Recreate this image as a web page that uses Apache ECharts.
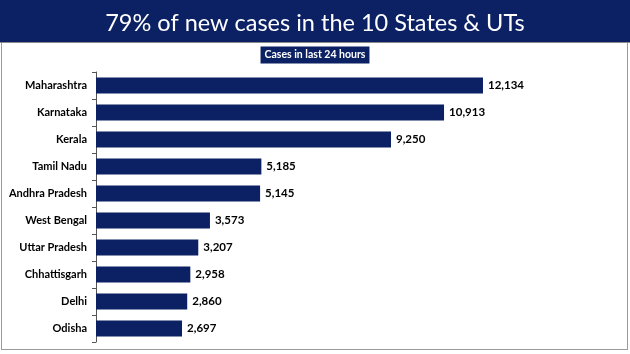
<!DOCTYPE html>
<html>
<head>
<meta charset="utf-8">
<script src="https://cdn.jsdelivr.net/npm/echarts@6/dist/echarts.min.js"></script>
<style>
html,body{margin:0;padding:0;background:#fff;}
#c{width:630px;height:354px;}
</style>
</head>
<body>
<div id="c"></div>
<script>
const categories = ["Maharashtra","Karnataka","Kerala","Tamil Nadu","Andhra Pradesh","West Bengal","Uttar Pradesh","Chhattisgarh","Delhi","Odisha"];
const cases = [12134,10913,9250,5185,5145,3573,3207,2958,2860,2697];
const titleText = "79% of new cases in the 10 States & UTs";
const subtitleText = "Cases in last 24 hours";

const navy = "#0b2163";
const chart = echarts.init(document.getElementById('c'), null, {renderer:'canvas'});
chart.setOption({
  animation:false,
  backgroundColor:'#fff',
  graphic:[
    {type:'rect', left:0, top:0, shape:{width:630,height:42}, style:{fill:navy}, z:0},
    {type:'rect', left:0, top:42, shape:{width:630,height:1}, style:{fill:'#8a8a8a'}, z:0},
    {type:'rect', left:1, top:43, shape:{width:1,height:307}, style:{fill:'#9a9a9a'}, z:0},
    {type:'rect', left:627, top:43, shape:{width:1,height:307}, style:{fill:'#9a9a9a'}, z:0},
    {type:'rect', left:1, top:349, shape:{width:627,height:1}, style:{fill:'#9a9a9a'}, z:0}
  ],
  title:[
    {text:titleText, left:'center', top:6,
     textStyle:{color:'#fff', fontFamily:'Lato', fontWeight:'normal', fontSize:23.5}},
    {text:subtitleText, left:'center', top:47, padding:[3,4,3,4], backgroundColor:navy,
     textStyle:{color:'#fff', fontFamily:'Lato', fontWeight:'bold', fontSize:10.5, lineHeight:10}}
  ],
  grid:{left:96, top:72, height:270, width:446.5, containLabel:false},
  xAxis:{type:'value', min:0, max:14000, show:false},
  yAxis:{type:'category', data:categories, inverse:true,
    axisLine:{show:true, lineStyle:{color:'#555', width:1}},
    axisTick:{show:true, length:4, lineStyle:{color:'#555'}},
    axisLabel:{color:'#000', fontFamily:'Lato', fontWeight:'bold', fontSize:11, margin:9}
  },
  series:[{
    type:'bar', data:cases, barWidth:'59%',
    itemStyle:{color:navy},
    label:{show:true, position:'right', distance:5, color:'#000', fontFamily:'Lato', fontWeight:'bold', fontSize:11.5,
      formatter:p=>p.value.toLocaleString('en-US')}
  }]
});
</script>
</body>
</html>
